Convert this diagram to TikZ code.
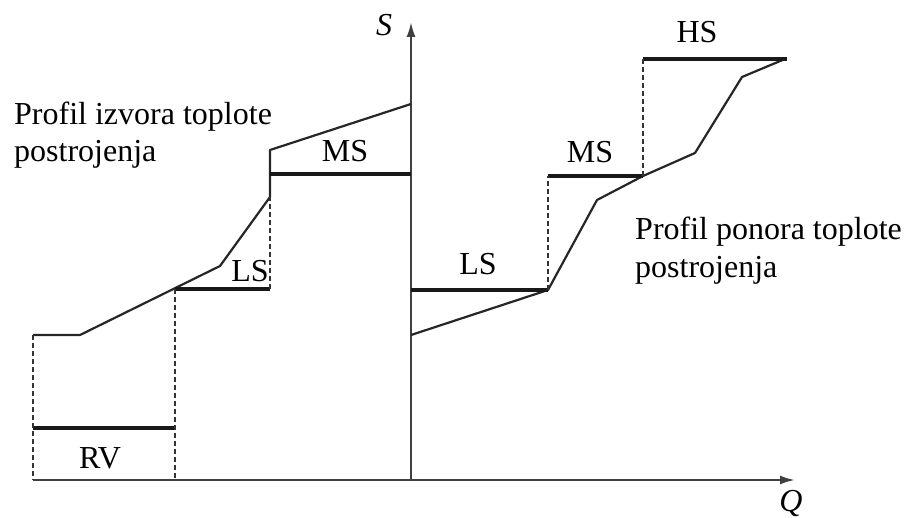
\documentclass[tikz,border=0pt]{standalone}
\usepackage{fontspec}
\setmainfont{Liberation Serif}
\usetikzlibrary{arrows.meta}
\begin{document}
\begin{tikzpicture}[x=1pt,y=-1pt,
  axisline/.style={draw=black!75,line width=2.2pt,-{Latex[length=15pt,width=9pt]}},
  profile/.style={draw=black!85,line width=2.2pt,line join=round},
  level/.style={draw=black!90,line width=3.6pt},
  guide/.style={draw=black!80,line width=1.7pt,dash pattern=on 5pt off 3pt},
  lbl/.style={font=\fontsize{32}{37}\selectfont,anchor=base,inner sep=0pt},
  para/.style={font=\fontsize{32}{37}\selectfont,anchor=base west,inner sep=0pt,align=left}]
\useasboundingbox (0,0) rectangle (917,518);

% axes
\coordinate (o) at (411,480);
\coordinate (ytop) at (411,22);
\coordinate (xl) at (33,480);
\coordinate (xr) at (795,480);
\draw[axisline] (o) -- (ytop);
\draw[axisline] (xl) -- (xr);
\node[lbl,font=\fontsize{32}{37}\selectfont\itshape] (S) at (384,36) {S};
\node[lbl,font=\fontsize{32}{37}\selectfont\itshape] (Q) at (791,511) {Q};

% source side (left)
\coordinate (a0) at (33,335);
\coordinate (a1) at (80,335);
\coordinate (a2) at (220,266);
\coordinate (a3) at (270,197);
\coordinate (a4) at (270,150);
\coordinate (a5) at (411,104);
\draw[profile] (a0) -- (a1) -- (a2) -- (a3) -- (a4) -- (a5);

\coordinate (rv0) at (33,428);
\coordinate (rv1) at (175,428);
\coordinate (ls0) at (175,289);
\coordinate (ls1) at (270,289);
\coordinate (ms0) at (270,174);
\coordinate (ms1) at (411,174);
\draw[level] (rv0) -- (rv1);
\draw[level] (ls0) -- (ls1);
\draw[level] (ms0) -- (ms1);

\coordinate (b33) at (33,480);
\coordinate (b175) at (175,480);
\draw[guide] (a0) -- (b33);
\draw[guide] (ls0) -- (b175);
\draw[guide] (ls1) -- (a3);

\node[lbl] (rvL) at (100,468) {RV};
\node[lbl] (lsL) at (250,282) {LS};
\node[lbl] (msL) at (345,162) {MS};

% sink side (right)
\coordinate (c0) at (411,335);
\coordinate (c1) at (548,290);
\coordinate (c2) at (597,200);
\coordinate (c3) at (643,176);
\coordinate (c4) at (695,153);
\coordinate (c5) at (742,77);
\coordinate (c6) at (785,59);
\draw[profile] (c0) -- (c1) -- (c2) -- (c3) -- (c4) -- (c5) -- (c6);

\coordinate (rls0) at (411,290);
\coordinate (rms0) at (548,176);
\coordinate (rhs0) at (643,59);
\coordinate (rhs1) at (787,59);
\draw[level] (rls0) -- (c1);
\draw[level] (rms0) -- (c3);
\draw[level] (rhs0) -- (rhs1);
\draw[guide] (c1) -- (rms0);
\draw[guide] (c3) -- (rhs0);

\node[lbl] (rlsL) at (478,275) {LS};
\node[lbl] (rmsL) at (590,163) {MS};
\node[lbl] (rhsL) at (697,43) {HS};

% profile captions (anchored on the baseline of the second line)
\node[para] (src) at (14,162) {Profil izvora toplote\\postrojenja};
\node[para] (snk) at (635,277) {Profil ponora toplote\\postrojenja};
\end{tikzpicture}
\end{document}
